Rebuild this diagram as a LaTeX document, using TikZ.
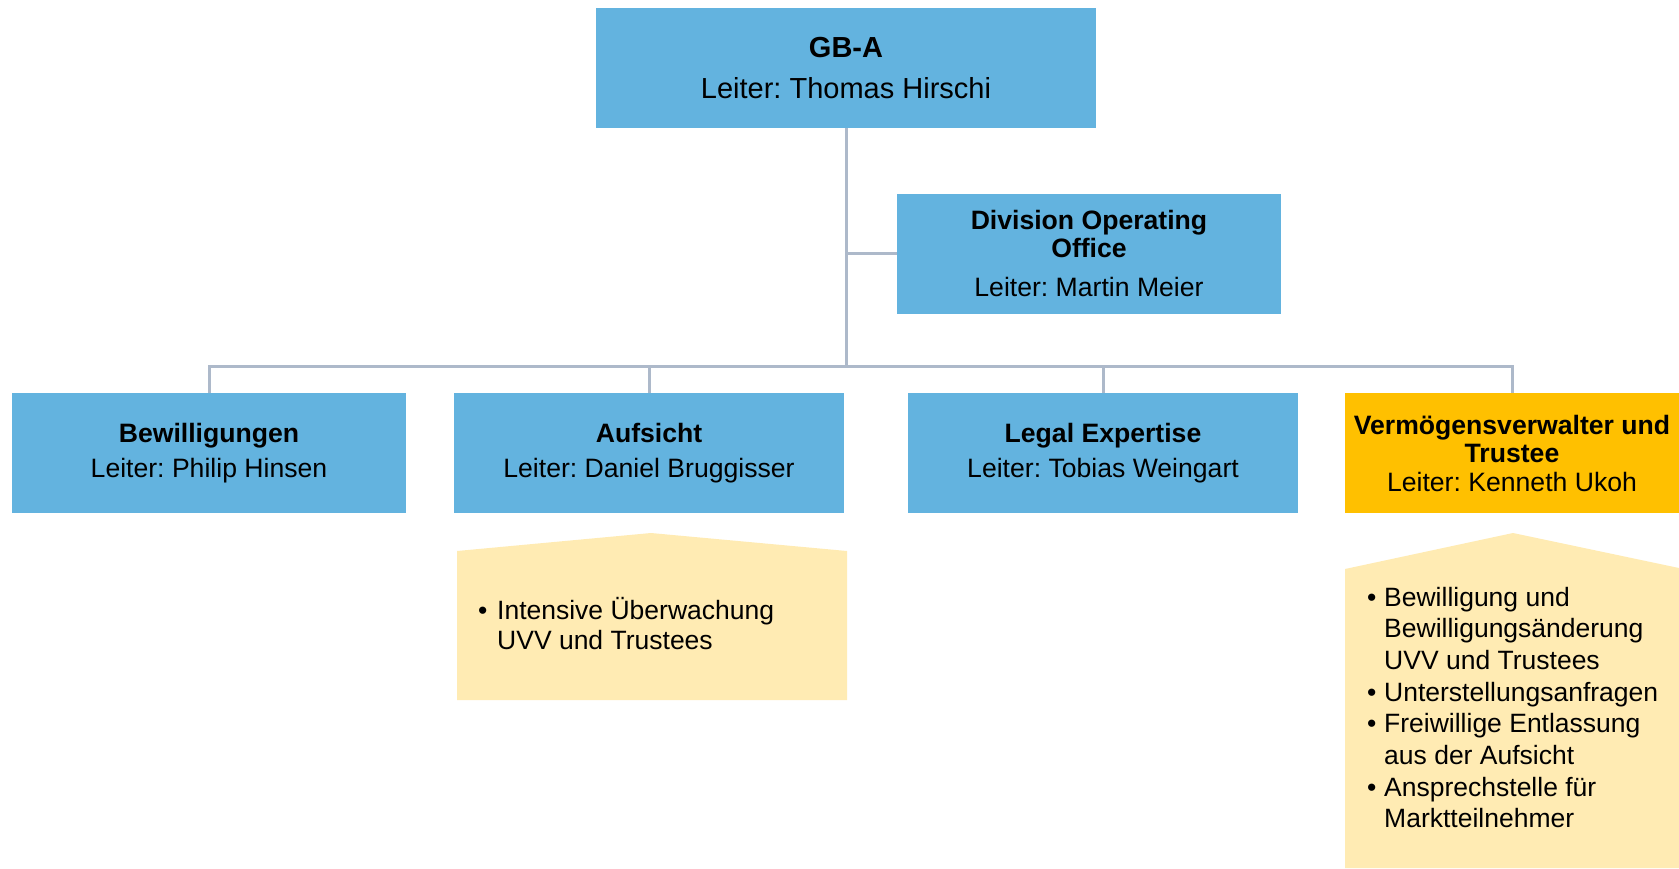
\documentclass[tikz,border=0pt]{standalone}
\usepackage{fontspec}
\setmainfont{Liberation Sans}
\usepackage{tikz}
\usetikzlibrary{positioning}
\usetikzlibrary{calc}
\frenchspacing

\definecolor{unitblue}{HTML}{63B3DF}
\definecolor{unitorange}{HTML}{FFC000}
\definecolor{notefill}{HTML}{FFEBB3}
\definecolor{linkgray}{HTML}{ADB9CA}

\begin{document}
\begin{tikzpicture} [x=1pt,y=-1pt,
            unit/.style={fill=unitblue,minimum height=120pt,inner sep=0pt,
                         font=\fontsize{26.6}{28}\selectfont},
            link/.style={draw=linkgray,line width=3pt},
            notetext/.style={anchor=base west,inner sep=0pt,
                         font=\fontsize{26.5}{31.7}\selectfont},
         every node/.append style={align=center}]

\useasboundingbox (0,0) rectangle (1679,868);

%GB-A
\node (gba) at (846,68) [unit,minimum width=500pt,font=\fontsize{29}{41}\selectfont]
   {\bfseries GB-A\\Leiter: Thomas Hirschi};

%DOO
\node (doo) at (1089,253.5) [unit,minimum width=384pt]
   {\bfseries Division Operating\\\bfseries Office\\[10.6pt]Leiter: Martin Meier};

%Divisions
\node (bew) at (209,453) [unit,minimum width=394pt]
   {\bfseries Bewilligungen\\[7pt]Leiter: Philip Hinsen};
\node (auf) at (649,453) [unit,minimum width=390pt]
   {\bfseries Aufsicht\\[7pt]Leiter: Daniel Bruggisser};
\node (legal) at (1103,453) [unit,minimum width=390pt]
   {\bfseries Legal Expertise\\[7pt]Leiter: Tobias Weingart};
\node (vv) at (1512,453) [unit,fill=unitorange,minimum width=334pt]
   {\bfseries Vermögensverwalter und\\\bfseries Trustee\\[1pt]Leiter: Kenneth Ukoh};

%links
\coordinate (bus) at (846,366);
\draw [link] (gba.south) -- (bus);
\draw [link] (gba.south |- doo.west) -- (doo.west);
\foreach \n in {bew,auf,legal,vv}
   \draw [link] (\n.north) |- (bus);

%notes Aufsicht
\fill [notefill] (457,551) -- (651,533) -- (847,551) -- (847,700) -- (457,700) -- cycle;
\node (aufnote) at (478,619) [notetext,font=\fontsize{26.5}{30}\selectfont]
   {\begin{tabular}[t]{@{}p{19pt}@{}l@{}}
    \textbullet & Intensive Überwachung\\
                & UVV und Trustees
    \end{tabular}};

%notes VV
\fill [notefill] (1345,569) -- (1513,533) -- (1679,568) -- (1679,868) -- (1345,868) -- cycle;
\node (vvnote) at (1367,606) [notetext]
   {\begin{tabular}[t]{@{}p{17pt}@{}l@{}}
    \textbullet & Bewilligung und\\
                & Bewilligungsänderung\\
                & UVV und Trustees\\
    \textbullet & Unterstellungsanfragen\\
    \textbullet & Freiwillige Entlassung\\
                & aus der Aufsicht\\
    \textbullet & Ansprechstelle für\\
                & Marktteilnehmer
    \end{tabular}};

\end{tikzpicture}
\end{document}
